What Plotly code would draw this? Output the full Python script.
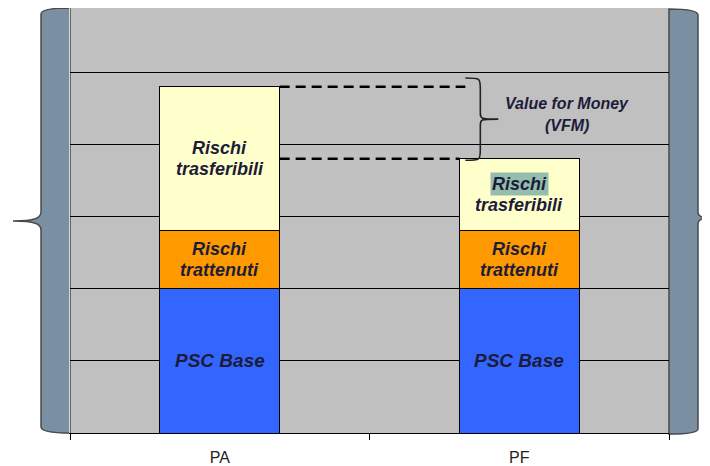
import plotly.graph_objects as go

# data
categories = ["PA", "PF"]
psc_base = [2.0, 2.0]
rischi_trattenuti = [0.8, 0.8]
rischi_trasferibili = [2.0, 1.0]

segment_names = ["PSC Base", "Rischi trattenuti", "Rischi trasferibili"]
segment_values = [psc_base, rischi_trattenuti, rischi_trasferibili]
segment_colors = ["#3366FF", "#FF9900", "#FFFFCC"]
segment_lines = [["PSC Base"], ["Rischi", "trattenuti"], ["Rischi", "trasferibili"]]
vfm_label = ["Value for Money", "(VFM)"]

# the page body has an 8px margin, so the figure is drawn a bit smaller
OFF = 8
W, H = 710 - OFF, 466 - OFF
L, R, T, B = 70 - OFF, 41, 0, 33
PW, PH = W - L - R, H - T - B
BAR_W = 0.4
FONT = "Arial, Liberation Sans, sans-serif"
TXT = "#1c1c3a"
SLATE = "#7B8FA3"


def paper(x, y):
    # page pixel position -> paper coordinates
    x, y = x - OFF, y - OFF
    return (x - L) / PW, (H - B - y) / PH


def path_from(points):
    parts = []
    for cmd, pts in points:
        coords = " ".join("%.4f,%.4f" % paper(*p) for p in pts)
        parts.append(cmd + " " + coords)
    return " ".join(parts)


fig = go.Figure()
for name, vals, col in zip(segment_names, segment_values, segment_colors):
    fig.add_trace(go.Bar(
        x=categories, y=vals, name=name, width=BAR_W,
        marker=dict(color=col, line=dict(color="black", width=1)),
        hoverinfo="skip", showlegend=False,
    ))

# segment labels
annotations = []
line_gap = 21
sizes = [19, 18, 18]
for i, cat in enumerate(categories):
    base = 0.0
    for s, vals in enumerate(segment_values):
        mid = base + vals[i] / 2
        lines = segment_lines[s]
        n = len(lines)
        for k, txt in enumerate(lines):
            ann = dict(
                x=cat, y=mid, xref="x", yref="y", text="<b><i>%s</i></b>" % txt,
                showarrow=False, yshift=((n - 1) / 2 - k) * line_gap,
                font=dict(family=FONT, size=sizes[s], color=TXT),
            )
            # highlighted word on the PF side
            if i == 1 and s == 2 and k == 0:
                ann["bgcolor"] = "#94BDAD"
                ann["borderpad"] = 1
            annotations.append(ann)
        base += vals[i]

# VFM bracket
top_pa = psc_base[0] + rischi_trattenuti[0] + rischi_trasferibili[0]
top_pf = psc_base[1] + rischi_trattenuti[1] + rischi_trasferibili[1]
xa, xs, xt = 0.82, 0.87, 0.93
yt, yb = top_pa + 0.12, top_pf - 0.02
ym = (yt + yb) / 2
brace = ("M %f,%f C %f,%f %f,%f %f,%f L %f,%f C %f,%f %f,%f %f,%f "
         "C %f,%f %f,%f %f,%f L %f,%f C %f,%f %f,%f %f,%f") % (
    xa, yt, xs, yt, xs, yt, xs, yt - 0.15,
    xs, ym + 0.1,
    xs, ym, xs, ym, xt, ym,
    xs, ym, xs, ym, xs, ym - 0.1,
    xs, yb + 0.15,
    xs, yb, xs, yb, xa, yb,
)

for k, txt in enumerate(vfm_label):
    annotations.append(dict(
        x=1.16, y=(top_pa + top_pf) / 2 + 0.12, xref="x", yref="y",
        text="<b><i>%s</i></b>" % txt, showarrow=False,
        yshift=(0.5 - k) * 22,
        font=dict(family=FONT, size=16, color=TXT),
    ))

shapes = [
    dict(type="line", xref="x", yref="y", x0=BAR_W / 2, x1=xa, y0=top_pa, y1=top_pa,
         line=dict(color="black", width=2.5, dash="10px,6px")),
    dict(type="line", xref="x", yref="y", x0=BAR_W / 2, x1=1 - BAR_W / 2, y0=top_pf, y1=top_pf,
         line=dict(color="black", width=2.5, dash="10px,6px")),
    dict(type="path", xref="x", yref="y", path=brace,
         line=dict(color="#222222", width=1.6)),
]

# side brackets (page pixel positions)
left_fill = path_from([
    ("M", [(70, 8)]), ("C", [(55, 8), (41, 9), (41, 14)]), ("L", [(41, 212)]),
    ("C", [(41, 218), (35, 221), (13, 221)]), ("C", [(35, 221), (41, 224), (41, 230)]),
    ("L", [(41, 427)]), ("C", [(41, 432), (55, 433), (70, 433)]),
]) + " Z"
right_fill = path_from([
    ("M", [(669, 9)]), ("C", [(685, 9), (698, 10), (698, 15)]), ("L", [(698, 212)]),
    ("C", [(698, 216), (701, 218), (710, 218)]), ("C", [(701, 218), (698, 220), (698, 224)]),
    ("L", [(698, 429)]), ("C", [(698, 433), (685, 434), (669, 434)]),
]) + " Z"
for p in (left_fill, right_fill):
    shapes.append(dict(type="path", xref="paper", yref="paper", path=p,
                       fillcolor=SLATE, line=dict(color="#4a4a4a", width=1.5), layer="below"))

fig.update_layout(
    width=W, height=H,
    margin=dict(l=L, r=R, t=T, b=B, pad=0),
    barmode="stack",
    paper_bgcolor="white",
    plot_bgcolor="#C0C0C0",
    shapes=shapes,
    annotations=annotations,
    xaxis=dict(
        type="category", range=[-0.5, 1.5], tickson="boundaries",
        ticks="outside", ticklen=6, tickcolor="black", tickwidth=1,
        showline=True, linecolor="black", linewidth=1, showgrid=False,
        ticklabelstandoff=10,
        tickfont=dict(family=FONT, size=16, color="#222222"),
    ),
    yaxis=dict(
        range=[0, 5.89], dtick=1, showticklabels=False, ticks="",
        showgrid=True, gridcolor="black", gridwidth=1, zeroline=False,
        showline=True, linecolor="#d8d8d8", linewidth=1,
    ),
)

fig.write_html("out.html")
